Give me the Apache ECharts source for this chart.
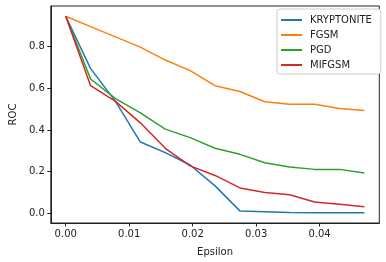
<!DOCTYPE html>
<html><head><meta charset="utf-8">
<script src="https://cdn.jsdelivr.net/npm/echarts@6/dist/echarts.min.js"></script>
<style>html,body{margin:0;padding:0;background:#fff}#c{width:386px;height:262px}</style>
</head><body><div id="c"></div>
<script>
const epsilon = [0,1,2,3,4,5,6,7,8,9,10,11,12].map(i => i/255);
const seriesNames = ['KRYPTONITE','FGSM','PGD','MIFGSM'];
const kryptonite = [0.945,0.694,0.537,0.342,0.291,0.232,0.132,0.012,0.008,0.004,0.003,0.003,0.003];
const fgsm = [0.945,0.895,0.846,0.797,0.735,0.684,0.612,0.584,0.535,0.523,0.523,0.503,0.493];
const pgd = [0.945,0.644,0.550,0.482,0.404,0.363,0.312,0.283,0.243,0.222,0.211,0.211,0.194];
const mifgsm = [0.945,0.612,0.537,0.434,0.312,0.228,0.182,0.122,0.100,0.089,0.055,0.044,0.032];
const xTicks = [0,0.01,0.02,0.03,0.04];
const yTicks = [0,0.2,0.4,0.6,0.8];
const colors = ['#1f77b4','#ff7f0e','#2ca02c','#d62728'];
const values = [kryptonite, fgsm, pgd, mifgsm];
const font = 'DejaVu Sans';
const chart = echarts.init(document.getElementById('c'), null, {renderer:'canvas'});
chart.setOption({
  animation:false,
  grid:{left:44.3,right:6.7,top:6,bottom:38,show:true,borderColor:'#222',borderWidth:1,backgroundColor:'#fff'},
  xAxis:{type:'value',min:-0.00235,max:0.04941,name:'Epsilon',nameLocation:'middle',nameGap:24,
    nameTextStyle:{fontFamily:font,fontSize:10,color:'#222'},
    axisLine:{show:true,onZero:false,lineStyle:{color:'#222',width:1}},
    axisTick:{show:true,length:3.5,customValues:xTicks,lineStyle:{color:'#222'}},
    axisLabel:{customValues:xTicks,formatter:v=>v.toFixed(2),fontFamily:font,fontSize:10,color:'#222',margin:6},
    splitLine:{show:false}},
  yAxis:{type:'value',min:-0.046,max:0.994,name:'ROC',nameLocation:'middle',nameGap:31,
    nameTextStyle:{fontFamily:font,fontSize:10,color:'#222'},
    axisLine:{show:true,onZero:false,lineStyle:{color:'#222',width:1}},
    axisTick:{show:true,length:3.5,customValues:yTicks,lineStyle:{color:'#222'}},
    axisLabel:{customValues:yTicks,formatter:v=>v.toFixed(1),fontFamily:font,fontSize:10,color:'#222',margin:6},
    splitLine:{show:false}},
  legend:{orient:'vertical',left:277,top:9,itemWidth:21,itemHeight:10,itemGap:5,
    padding:[6,9,4,3],backgroundColor:'#fff',borderColor:'#ccc',borderWidth:1,borderRadius:3,
    itemStyle:{opacity:0},lineStyle:{width:2},
    textStyle:{fontFamily:font,fontSize:10,color:'#222',padding:[0,0,0,3]},
    data:seriesNames},
  series:seriesNames.map((n,k)=>({name:n,type:'line',symbol:'none',showSymbol:false,
    color:colors[k],lineStyle:{width:1.5,color:colors[k]},
    data:epsilon.map((e,i)=>[e,values[k][i]])}))
});
</script></body></html>
